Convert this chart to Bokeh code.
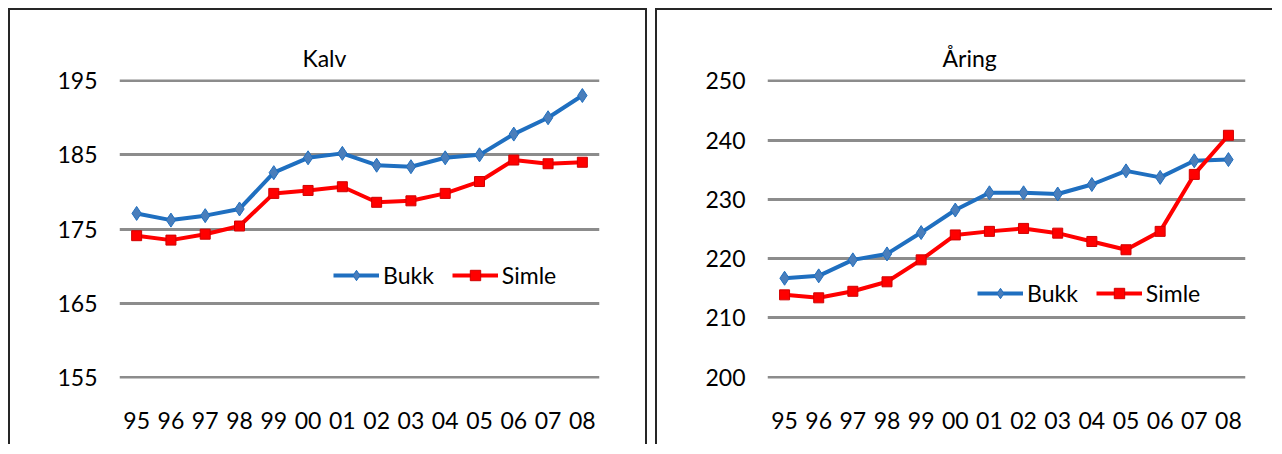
from bokeh.plotting import figure
from bokeh.models import (FactorRange, Range1d, FixedTicker, Legend, LegendItem, Title)
from bokeh.layouts import row
from bokeh.embed import file_html
from bokeh.resources import INLINE

years = ["95", "96", "97", "98", "99", "00", "01", "02", "03", "04", "05", "06", "07", "08"]

kalv_bukk = [177.1, 176.2, 176.8, 177.7, 182.6, 184.6, 185.2, 183.6, 183.4, 184.6, 185.0, 187.8, 190.0, 193.0]
kalv_simle = [174.1, 173.5, 174.3, 175.4, 179.8, 180.2, 180.7, 178.6, 178.8, 179.8, 181.4, 184.3, 183.8, 184.0]
kalv_ticks = [155, 165, 175, 185, 195]

aaring_bukk = [216.7, 217.1, 219.8, 220.8, 224.4, 228.2, 231.1, 231.1, 230.9, 232.5, 234.8, 233.7, 236.5, 236.7]
aaring_simle = [213.9, 213.4, 214.5, 216.1, 219.8, 224.0, 224.6, 225.1, 224.3, 222.9, 221.5, 224.6, 234.2, 240.8]
aaring_ticks = [200, 210, 220, 230, 240, 250]

FONT = "Lato"
FS = "23px"
BLUE = "#1F6FC0"
BLUE_M = "#4A7EBB"
RED = "#FF0000"
GRID = "#8C8C8C"


def make_panel(title, bukk, simle, ticks, width, border_css, min_top, min_bottom,
               min_left, min_right, title_offset, legend_loc):
    pad = (ticks[-1] - ticks[0]) * 0.004
    p = figure(x_range=FactorRange(factors=years, range_padding=0),
               y_range=Range1d(ticks[0] - pad, ticks[-1] + pad),
               width=width, height=436, output_backend="svg", toolbar_location=None,
               min_border_top=min_top, min_border_bottom=min_bottom,
               min_border_left=min_left, min_border_right=min_right,
               outline_line_color=None, background_fill_color="white",
               border_fill_color="white")
    p.styles = border_css
    p.add_layout(Title(text=title, align="left", offset=title_offset, standoff=16,
                       text_font=FONT, text_font_size=FS, text_font_style="normal",
                       text_color="#000000"), "above")

    p.xgrid.grid_line_color = None
    p.ygrid.grid_line_color = GRID
    p.ygrid.grid_line_width = 3
    p.yaxis.ticker = FixedTicker(ticks=ticks)

    for ax in (p.xaxis, p.yaxis):
        ax.axis_line_color = None
        ax.major_tick_line_color = None
        ax.minor_tick_line_color = None
        ax.major_label_text_font = FONT
        ax.major_label_text_font_size = FS
        ax.major_label_text_color = "#000000"
    p.yaxis.major_label_standoff = 16
    p.xaxis.major_label_standoff = 27

    lb = p.line(x=years, y=bukk, line_color=BLUE, line_width=4)
    mb = p.scatter(x=years, y=bukk, marker="diamond", size=14,
                   fill_color=BLUE_M, line_color=BLUE, line_width=1)
    ls = p.line(x=years, y=simle, line_color=RED, line_width=4)
    ms = p.scatter(x=years, y=simle, marker="square", size=10,
                   fill_color=RED, line_color="#D00000", line_width=1)

    legend = Legend(items=[LegendItem(label="Bukk", renderers=[lb, mb]),
                           LegendItem(label="Simle", renderers=[ls, ms])],
                    orientation="horizontal", location=legend_loc,
                    border_line_color=None, background_fill_alpha=0,
                    padding=0, margin=0, spacing=18, label_standoff=4,
                    glyph_width=46, glyph_height=26, label_height=26,
                    label_text_font=FONT, label_text_font_size=FS,
                    label_text_color="#000000")
    p.add_layout(legend, "center")
    return p


border_l = {"border-top": "2px solid #262626", "border-left": "2px solid #262626",
            "border-right": "2px solid #262626"}
border_r = {"border-top": "2px solid #262626", "border-left": "2px solid #262626"}

p1 = make_panel("Kalv", kalv_bukk, kalv_simle, kalv_ticks, 639, border_l,
                69, 66, 109, 50, 183, (214, 89))
p2 = make_panel("Åring", aaring_bukk, aaring_simle, aaring_ticks, 617, border_r,
                68, 68, 110, 29, 175, (210, 71))

layout = row(p1, p2, spacing=8, margin=(8, 0, 0, 8))
open("out.html", "w").write(file_html(layout, INLINE))
